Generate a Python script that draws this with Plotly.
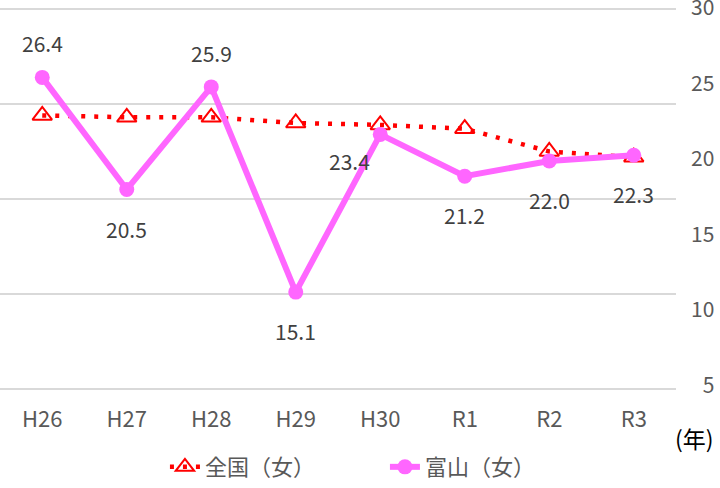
import plotly.graph_objects as go

# 年度ラベル
years = ["H26", "H27", "H28", "H29", "H30", "R1", "R2", "R3"]
# 全国(女) (no labels shown)
zenkoku = [24.4, 24.3, 24.3, 24.0, 23.9, 23.7, 22.5, 22.2]
# 富山(女)
toyama = [26.4, 20.5, 25.9, 15.1, 23.4, 21.2, 22.0, 22.3]

# where each toyama label sits relative to its point (style, not data)
label_pos = ["above", "below", "above", "below", "left", "below", "below", "below"]
shifts = {"above": (0, 34), "below": (0, -39), "left": (-31, -27)}

right_ticks = [5, 10, 15, 20, 25, 30]

FONT = "Noto Sans CJK JP, sans-serif"

fig = go.Figure()

fig.add_trace(go.Scatter(
    x=years, y=zenkoku,
    mode="lines+markers",
    name="全国（女）",
    line=dict(color="#FF0000", width=4.5, dash="4px,9px"),
    marker=dict(symbol="triangle-up-open", size=17, color="#FF0000",
                line=dict(width=2, color="#FF0000")),
))

fig.add_trace(go.Scatter(
    x=years, y=toyama,
    mode="lines+markers",
    name="富山（女）",
    line=dict(color="#FF66FF", width=6),
    marker=dict(symbol="circle", size=15, color="#FF66FF"),
))

# invisible trace so the right-hand axis is drawn
fig.add_trace(go.Scatter(x=years, y=toyama, yaxis="y2", mode="markers",
                         marker=dict(opacity=0), showlegend=False, hoverinfo="skip"))

# data labels for 富山
for yr, v, pos in zip(years, toyama, label_pos):
    dx, dy = shifts[pos]
    fig.add_annotation(
        x=yr, y=v, xref="x", yref="y",
        text=f"{v:.1f}", showarrow=False,
        xshift=dx, yshift=dy,
        font=dict(family=FONT, size=21, color="#404040"),
    )

fig.add_annotation(
    x=694.5 / 676, y=-0.122, xref="paper", yref="paper",
    xanchor="center", yanchor="middle",
    text="(年)", showarrow=False,
    font=dict(family=FONT, size=23, color="#000000"),
)

fig.update_layout(
    width=720, height=488,
    margin=dict(l=0, r=44, t=7, b=97, autoexpand=False),
    paper_bgcolor="white", plot_bgcolor="white",
    font=dict(family=FONT, color="#595959"),
    showlegend=True,
    legend=dict(
        orientation="h", x=0.244, xanchor="left", y=-0.198, yanchor="middle",
        font=dict(family=FONT, size=22, color="#595959"),
        entrywidth=175, entrywidthmode="pixels",
    ),
    xaxis=dict(
        showgrid=False, zeroline=False, showline=False, ticks="",
        tickfont=dict(size=22, color="#595959"),
        ticklabelstandoff=13, automargin=False,
        range=[-0.5, 7.5],
    ),
    yaxis=dict(
        range=[9.895, 30.105], tickvals=[10, 15, 20, 25, 30], showticklabels=False,
        gridcolor="#D9D9D9", gridwidth=2, zeroline=False, showline=False,
        automargin=False,
    ),
    yaxis2=dict(
        overlaying="y", side="right", range=[4.65, 30.05],
        tickvals=right_ticks,
        ticktext=[("\u2007" + str(t)) if t < 10 else str(t) for t in right_ticks],
        showgrid=False, zeroline=False, showline=False, ticks="",
        tickfont=dict(size=21, color="#595959"),
        ticklabelstandoff=14, automargin=False,
        ticklabeloverflow="allow",
    ),
)

# page body margin would push the 720px figure 8px off the window
fig.write_html("out.html", config={"displayModeBar": False},
               post_script="document.body.style.margin='0';")
